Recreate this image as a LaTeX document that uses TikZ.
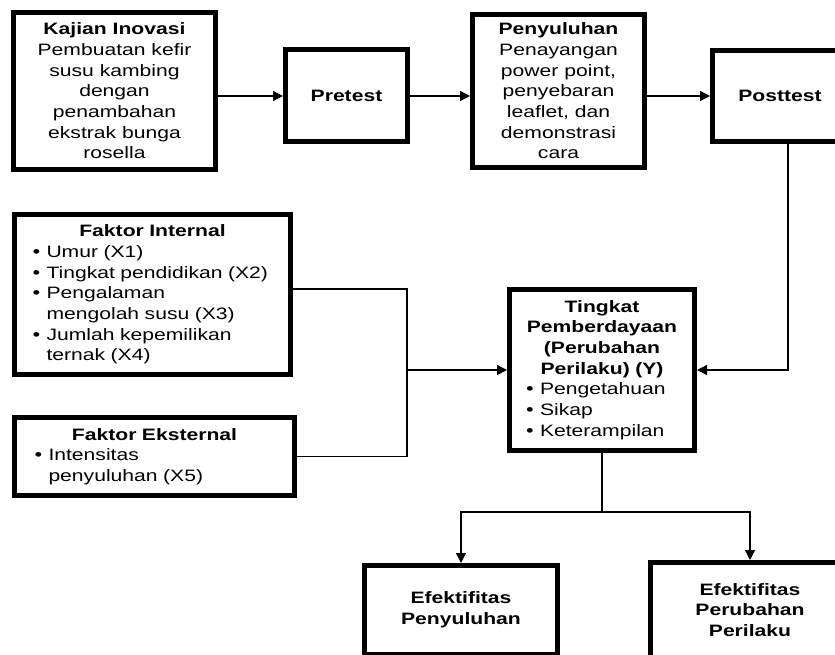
\documentclass[tikz,border=0pt]{standalone}
\usepackage{fontspec}
\setmainfont{Liberation Sans}[FakeStretch=1.28]
\usetikzlibrary{arrows.meta,calc}
\newcommand{\bul}[1]{\par\noindent\makebox[14pt][l]{\fontsize{17}{17}\selectfont •}#1}
\newcommand{\cont}[1]{\par\noindent\hspace*{14pt}#1}
\begin{document}
\begin{tikzpicture}[x=1pt,y=-1pt,
  box/.style={draw=black, line width=5pt, fill=white, inner sep=0pt,
    font=\fontsize{16.5}{20.7}\selectfont},
  conn/.style={line width=1.3pt, draw=black},
  arr/.style={conn, -{Triangle[length=10pt,width=10pt]}}]
\useasboundingbox (0,0) rectangle (835,655);
\clip (0,0) rectangle (835,655);
\fill[white] (0,0) rectangle (835,655);
% top row
\node[box, minimum width=202, minimum height=157, align=center] (kaj) at (114.5,91)
  {\textbf{Kajian Inovasi}\\Pembuatan kefir\\susu kambing\\dengan\\penambahan\\ekstrak bunga\\rosella};
\node[box, minimum width=122, minimum height=92, align=center] (pre) at (346.5,96)
  {\textbf{Pretest}};
\node[box, minimum width=172, minimum height=153, align=center] (peny) at (558.5,91)
  {\textbf{Penyuluhan}\\Penayangan\\power point,\\penyebaran\\leaflet, dan\\demonstrasi\\cara};
\node[box, minimum width=135, minimum height=91, align=center] (post) at (780,96)
  {\textbf{Posttest}};
% factors
\node[box, minimum width=276, minimum height=160, text width=240, align=left] (fi) at (152.5,294.5)
  {{\centering\bfseries Faktor Internal\par}\bul{Umur (X1)}\bul{Tingkat pendidikan (X2)}\bul{Pengalaman}\cont{mengolah susu (X3)}\bul{Jumlah kepemilikan}\cont{ternak (X4)}};
\node[box, minimum width=280, minimum height=78, text width=240, align=left] (fe) at (154.5,456.5)
  {{\centering\bfseries Faktor Eksternal\par}\bul{Intensitas}\cont{penyuluhan (X5)}};
% Y
\node[box, minimum width=185, minimum height=161, text width=152, align=left] (ting) at (602,370)
  {{\centering\bfseries Tingkat\\Pemberdayaan\\(Perubahan\\Perilaku) (Y)\par}\bul{Pengetahuan}\bul{Sikap}\bul{Keterampilan}};
% outputs
\node[box, minimum width=193, minimum height=89, align=center] (ef1) at (461,610)
  {\textbf{Efektifitas}\\\textbf{Penyuluhan}};
\node[box, minimum width=199, minimum height=95, align=center] (ef2) at (750,610)
  {\textbf{Efektifitas}\\\textbf{Perubahan}\\\textbf{Perilaku}};
% connectors
\coordinate (jn) at (407,370);
\coordinate (sp) at (602,512);
\draw[arr] (kaj.east |- pre.west) -- (pre.west);
\draw[arr] (pre.east) -- (pre.east -| peny.west);
\draw[arr] (peny.east |- post.west) -- (post.west);
\draw[arr] ([xshift=8pt]post.south) |- (ting.east);
\draw[conn] ([yshift=5.5pt]fi.east) -| (jn) |- (fe.east);
\draw[arr] (jn) -- (ting.west);
\draw[conn] (ting.south) -- (sp);
\draw[arr] (sp) -| (ef1.north);
\draw[arr] (sp) -| (ef2.north);
\end{tikzpicture}
\end{document}
